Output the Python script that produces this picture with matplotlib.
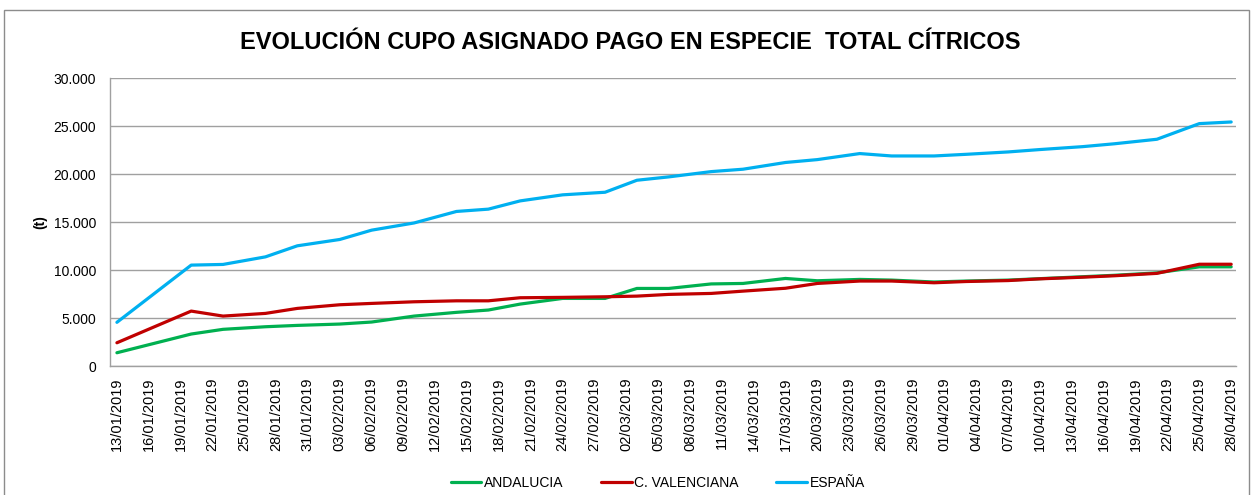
import pandas as pd
import matplotlib.pyplot as plt
from matplotlib.ticker import FuncFormatter
from matplotlib.patches import Rectangle

# Fechas de los datos (dd/mm/yyyy)
fechas = ['13/01/2019', '20/01/2019', '23/01/2019', '27/01/2019', '30/01/2019',
          '03/02/2019', '06/02/2019', '10/02/2019', '14/02/2019', '17/02/2019',
          '20/02/2019', '24/02/2019', '28/02/2019', '03/03/2019', '06/03/2019',
          '10/03/2019', '13/03/2019', '17/03/2019', '20/03/2019', '24/03/2019',
          '27/03/2019', '31/03/2019', '03/04/2019', '07/04/2019', '10/04/2019',
          '14/04/2019', '17/04/2019', '21/04/2019', '25/04/2019', '28/04/2019']

# Toneladas por serie
andalucia = [1380, 3330, 3820, 4090, 4230, 4370, 4580, 5200, 5590, 5830,
             6450, 7040, 7040, 8080, 8080, 8550, 8600, 9120, 8880, 9020,
             8950, 8750, 8850, 8950, 9100, 9300, 9450, 9700, 10330, 10330]
c_valenciana = [2420, 5720, 5200, 5480, 6000, 6380, 6520, 6690, 6790, 6790,
                7110, 7150, 7210, 7280, 7460, 7560, 7800, 8100, 8600, 8850,
                8850, 8670, 8800, 8900, 9080, 9250, 9400, 9650, 10600, 10600]
espana = [4550, 10510, 10580, 11370, 12520, 13180, 14150, 14900, 16100, 16340,
          17200, 17830, 18100, 19350, 19700, 20250, 20500, 21200, 21500, 22130,
          21880, 21880, 22050, 22300, 22550, 22850, 23150, 23620, 25250, 25420]

series = ['ANDALUCIA', 'C. VALENCIANA', 'ESPAÑA']
colores = ['#00B050', '#C00000', '#00B0F0']

x = pd.to_datetime(fechas, format='%d/%m/%Y')
ticks = pd.date_range('2019-01-13', '2019-04-28', freq='3D')

plt.rcParams['font.family'] = ['Liberation Sans', 'DejaVu Sans']

fig = plt.figure(figsize=(12.53, 4.95), dpi=100)
ax = fig.add_axes([0.0878, 0.2606, 0.8986, 0.5818])

for nombre, valores, color in zip(series, [andalucia, c_valenciana, espana], colores):
    ax.plot(x, valores, color=color, linewidth=2.3, label=nombre, solid_capstyle='round')

ax.set_ylim(0, 30000)
ax.set_yticks(range(0, 30001, 5000))
ax.yaxis.set_major_formatter(FuncFormatter(lambda v, p: f'{v:,.0f}'.replace(',', '.')))
ax.set_xlim(ticks[0] - pd.Timedelta(days=0.65), ticks[-1] + pd.Timedelta(days=0.45))
ax.set_xticks(ticks)
ax.set_xticklabels([t.strftime('%d/%m/%Y') for t in ticks], rotation=90, fontsize=10.5)
ax.tick_params(axis='y', labelsize=10, length=0, pad=10)
ax.tick_params(axis='x', length=0, pad=8)

ax.grid(axis='y', color='#a0a0a0', linewidth=1)
ax.set_axisbelow(True)
for lado in ['top', 'right']:
    ax.spines[lado].set_visible(False)
for lado in ['left', 'bottom']:
    ax.spines[lado].set_color('#a0a0a0')
    ax.spines[lado].set_linewidth(1)

fig.text(0.032, 0.552, '(t)', rotation=90, fontsize=10, fontweight='bold',
         ha='center', va='center')
fig.text(0.503, 0.915, 'EVOLUCIÓN CUPO ASIGNADO PAGO EN ESPECIE  TOTAL CÍTRICOS',
         fontsize=17, fontweight='bold', ha='center', va='center')

fig.legend(loc='center', bbox_to_anchor=(0.525, 0.025), ncol=3, frameon=False,
           fontsize=10, handlelength=2.2, handletextpad=0.2, columnspacing=2.7)

# Marco del gráfico
fig.patches.append(Rectangle((0.0028, -0.05), 0.994, 1.03, transform=fig.transFigure,
                             fill=False, edgecolor='#8c8c8c', linewidth=1))

plt.savefig('out.png', dpi=100)
